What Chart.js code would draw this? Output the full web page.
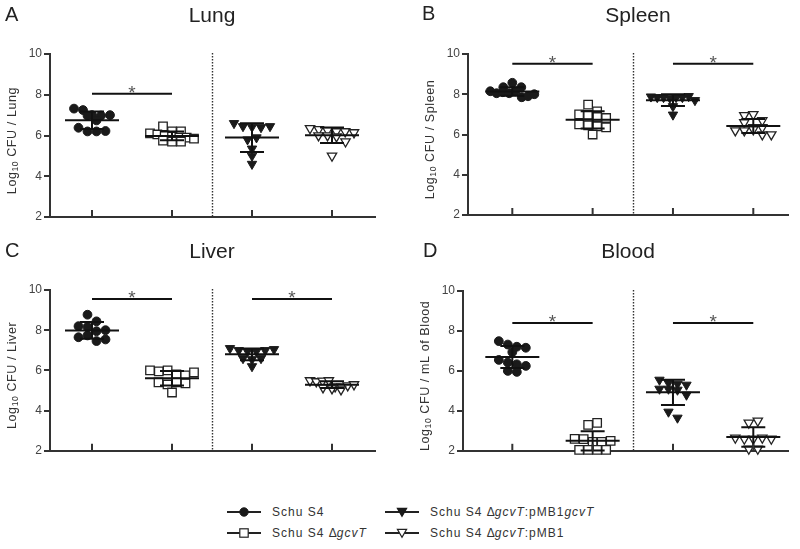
<!DOCTYPE html>
<html>
<head>
<meta charset="utf-8">
<script src="https://cdn.jsdelivr.net/npm/chart.js@4.4.1/dist/chart.umd.min.js"></script>
<style>
html,body{margin:0;padding:0;background:#fff;}
#wrap{position:relative;width:800px;height:549px;overflow:hidden;font-family:"Liberation Sans",Arial,sans-serif;background:#fff;}
.panel{position:absolute;width:400px;height:230px;}
.leg{position:absolute;height:16px;display:flex;align-items:center;white-space:nowrap;}
.leg svg{display:block;}
.leg span{font-size:12px;letter-spacing:1px;color:#333;margin-left:11px;}
</style>
</head>
<body>
<div id="wrap">
  <div class="panel" style="left:0;top:0"><canvas id="cA" width="400" height="230"></canvas></div>
  <div class="panel" style="left:400px;top:0"><canvas id="cB" width="400" height="230"></canvas></div>
  <div class="panel" style="left:0;top:230px"><canvas id="cC" width="400" height="230"></canvas></div>
  <div class="panel" style="left:400px;top:230px"><canvas id="cD" width="400" height="230"></canvas></div>
  <div id="legend"></div>
</div>
<script>
// ---------------- data ----------------
const yTicks = [2, 4, 6, 8, 10];
const groupLabels = ['Schu S4', 'Schu S4 ΔgcvT', 'Schu S4 ΔgcvT:pMB1gcvT', 'Schu S4 ΔgcvT:pMB1'];
const panelLetters = ['A', 'B', 'C', 'D'];
const panelTitles = ['Lung', 'Spleen', 'Liver', 'Blood'];
const yUnits = ['Lung', 'Spleen', 'Liver', 'mL of Blood'];

const lungWT   = [7.32, 7.25, 7.0, 6.98, 6.97, 7.0, 6.74, 6.38, 6.2, 6.2, 6.22];
const lungMut  = [6.45, 6.2, 6.2, 6.1, 6.05, 6.0, 5.95, 5.9, 5.9, 5.85, 5.75, 5.7, 5.7];
const lungComp = [6.6, 6.45, 6.42, 6.4, 6.45, 5.8, 5.9, 5.35, 5.0, 4.6];
const lungVec  = [6.35, 6.3, 6.25, 6.2, 6.2, 6.15, 6.0, 6.0, 5.95, 5.7, 5.0];

const spleenWT   = [8.35, 8.57, 8.35, 8.15, 8.05, 8.1, 8.05, 8.15, 7.85, 7.9, 8.0];
const spleenMut  = [7.48, 7.15, 7.0, 6.98, 6.87, 6.82, 6.5, 6.45, 6.4, 6.35, 6.0];
const spleenComp = [7.88, 7.85, 7.85, 7.82, 7.85, 7.85, 7.9, 7.7, 7.4, 6.98];
const spleenVec  = [6.95, 7.0, 6.7, 6.6, 6.35, 6.2, 6.2, 6.35, 6.25, 6.0, 6.0];

const liverWT   = [8.77, 8.44, 8.2, 8.16, 7.95, 7.65, 7.74, 7.46, 7.54, 8.0];
const liverMut  = [6.0, 5.95, 6.0, 5.8, 5.75, 5.9, 5.4, 5.3, 5.4, 4.9, 5.35];
const liverComp = [7.1, 7.0, 6.95, 6.95, 7.0, 7.05, 6.6, 6.55, 6.6, 6.2];
const liverVec  = [5.5, 5.45, 5.48, 5.5, 5.2, 5.2, 5.15, 5.1, 5.25, 5.05, 5.3];

const bloodWT   = [7.49, 7.32, 7.21, 7.16, 6.94, 6.55, 6.42, 6.33, 6.25, 6.0, 5.95];
const bloodMut  = [3.3, 3.4, 2.6, 2.58, 2.45, 2.45, 2.5, 2.05, 2.05, 2.05, 2.05];
const bloodComp = [5.55, 5.4, 5.35, 5.3, 5.1, 5.1, 5.05, 4.8, 3.95, 3.65];
const bloodVec  = [3.4, 3.5, 2.65, 2.6, 2.6, 2.65, 2.6, 2.1, 2.1];

// significance comparisons (group indices) and the level of the bar
const lungSig = [[1, 2]];
const spleenSig = [[1, 2], [3, 4]];
const liverSig = [[1, 2], [3, 4]];
const bloodSig = [[1, 2], [3, 4]];
const sigLevels = [8.05, 9.52, 9.55, 8.4];

// ---------------- styling ----------------
const FONT = '"Liberation Sans", Arial, sans-serif';
const INK = '#1a1a1a';
const groupStyles = [
  { pointStyle: 'circle',   rotation: 0,   radius: 4.4, fill: INK,   border: INK,   bw: 1 },
  { pointStyle: 'rect',     rotation: 0,   radius: 6.0, fill: '#fff', border: '#222', bw: 1.3 },
  { pointStyle: 'triangle', rotation: 180, radius: 5.4, fill: INK,   border: INK,   bw: 1 },
  { pointStyle: 'triangle', rotation: 180, radius: 5.4, fill: '#fff', border: '#222', bw: 1.3 }
];

const panels = [
  { id: 'cA', sets: [lungWT, lungMut, lungComp, lungVec], sig: lungSig,
    area: { l: 50, r: 375, t: 54, b: 217 }, xr: [0.475, 4.5375],
    title: { x: 212, y: 22 }, letter: { x: 5, y: 21 } },
  { id: 'cB', sets: [spleenWT, spleenMut, spleenComp, spleenVec], sig: spleenSig,
    area: { l: 68, r: 388, t: 54, b: 215 }, xr: [0.4485, 4.432],
    title: { x: 238, y: 22 }, letter: { x: 22, y: 20 } },
  { id: 'cC', sets: [liverWT, liverMut, liverComp, liverVec], sig: liverSig,
    area: { l: 50, r: 375, t: 60, b: 222 }, xr: [0.475, 4.5375],
    title: { x: 212, y: 28 }, letter: { x: 5, y: 27 } },
  { id: 'cD', sets: [bloodWT, bloodMut, bloodComp, bloodVec], sig: bloodSig,
    area: { l: 63, r: 388, t: 61, b: 222 }, xr: [0.386, 4.432],
    title: { x: 228, y: 28 }, letter: { x: 23, y: 27 } }
];

const Y_AXIS_W = 40;

function meanSd(arr) {
  const n = arr.length;
  const m = arr.reduce((a, b) => a + b, 0) / n;
  const v = arr.reduce((a, b) => a + (b - m) * (b - m), 0) / (n - 1);
  return [m, Math.sqrt(v)];
}

const decoPlugin = {
  id: 'deco',
  afterDatasetsUpdate(chart, args, o) {
    // column scatter layout: points with close values share a row,
    // rows are spread sideways and centred on the column
    const { rowH, step, halfW } = o.swarm;
    chart.data.datasets.forEach((ds, i) => {
      const meta = chart.getDatasetMeta(i);
      const idx = meta.data.map((el, k) => k).sort((a, b) => meta.data[a].y - meta.data[b].y);
      const rows = [];
      let cur = null;
      idx.forEach(k => {
        const y = meta.data[k].y;
        if (!cur || y - cur.y0 > rowH) { cur = { y0: y, items: [] }; rows.push(cur); }
        cur.items.push(k);
      });
      rows.forEach(r => {
        const items = r.items.slice().sort((a, b) => a - b);
        const n = items.length;
        const s = n > 1 ? Math.min(step, 2 * halfW / (n - 1)) : 0;
        items.forEach((k, j) => {
          meta.data[k].x += (j - (n - 1) / 2) * s;
        });
      });
    });
  },
  beforeDatasetsDraw(chart, args, o) {
    const { ctx, chartArea: a, scales: { x } } = chart;
    ctx.save();
    ctx.strokeStyle = '#333';
    ctx.lineWidth = 1.4;
    ctx.setLineDash([1.5, 1.5]);
    const dx = Math.round(x.getPixelForValue(2.5)) + 0.5;
    ctx.beginPath();
    ctx.moveTo(dx, a.top - 1);
    ctx.lineTo(dx, a.bottom);
    ctx.stroke();
    ctx.restore();
  },
  afterDatasetsDraw(chart, args, o) {
    const { ctx, scales: { x, y } } = chart;
    ctx.save();
    ctx.strokeStyle = '#111';
    ctx.lineWidth = 2;
    chart.data.datasets.forEach((ds, i) => {
      const vals = ds.data.map(d => d.y);
      const [m, sd] = meanSd(vals);
      const px = x.getPixelForValue(ds.data[0].x);
      const pm = y.getPixelForValue(m);
      const pt = y.getPixelForValue(m + sd);
      const pb = y.getPixelForValue(m - sd);
      ctx.beginPath();
      ctx.moveTo(px - 27, pm); ctx.lineTo(px + 27, pm);
      ctx.moveTo(px, pt); ctx.lineTo(px, pb);
      ctx.moveTo(px - 12, pt); ctx.lineTo(px + 12, pt);
      ctx.moveTo(px - 12, pb); ctx.lineTo(px + 12, pb);
      ctx.stroke();
    });
    // significance bars
    const sy = y.getPixelForValue(o.sigLevel);
    o.sig.forEach(([g1, g2]) => {
      const x1 = x.getPixelForValue(g1), x2 = x.getPixelForValue(g2);
      ctx.beginPath();
      ctx.moveTo(x1, sy); ctx.lineTo(x2, sy);
      ctx.stroke();
      ctx.fillStyle = '#555';
      ctx.font = '19px ' + FONT;
      ctx.textAlign = 'center';
      ctx.textBaseline = 'alphabetic';
      ctx.fillText('*', (x1 + x2) / 2, sy + 5);
    });
    ctx.restore();
  },
  afterDraw(chart, args, o) {
    const { ctx, chartArea: a, scales: { x } } = chart;
    ctx.save();
    // category ticks pointing up from the x axis
    ctx.strokeStyle = '#333';
    ctx.lineWidth = 2;
    [1, 2, 3, 4].forEach(c => {
      const px = x.getPixelForValue(c);
      ctx.beginPath();
      ctx.moveTo(px, a.bottom);
      ctx.lineTo(px, a.bottom - 7);
      ctx.stroke();
    });
    // panel letter and title
    ctx.fillStyle = '#222';
    ctx.textBaseline = 'alphabetic';
    ctx.font = '20px ' + FONT;
    ctx.textAlign = 'left';
    ctx.fillText(o.letter, o.letterPos.x, o.letterPos.y);
    ctx.font = '21px ' + FONT;
    ctx.textAlign = 'center';
    ctx.fillText(o.title, o.titlePos.x, o.titlePos.y);
    // y axis title with subscript
    const cx = a.left - 37;
    const cy = (a.top + a.bottom) / 2 + 5;
    ctx.translate(cx, cy);
    ctx.rotate(-Math.PI / 2);
    ctx.fillStyle = '#333';
    try { ctx.letterSpacing = '0.6px'; } catch (e) {}
    const big = '12.5px ' + FONT, small = '8.5px ' + FONT;
    const p1 = 'Log', p2 = '10', p3 = ' CFU / ' + o.unit;
    ctx.font = big; const w1 = ctx.measureText(p1).width, w3 = ctx.measureText(p3).width;
    ctx.font = small; const w2 = ctx.measureText(p2).width;
    let sx = -(w1 + w2 + w3) / 2;
    ctx.textAlign = 'left';
    ctx.textBaseline = 'middle';
    ctx.font = big; ctx.fillText(p1, sx, 0); sx += w1;
    ctx.font = small; ctx.fillText(p2, sx, 3); sx += w2;
    ctx.font = big; ctx.fillText(p3, sx, 0);
    ctx.restore();
  }
};

panels.forEach((p, pi) => {
  const datasets = p.sets.map((vals, gi) => {
    const s = groupStyles[gi];
    return {
      label: groupLabels[gi],
      data: vals.map(v => ({ x: gi + 1, y: v })),
      pointStyle: s.pointStyle,
      rotation: s.rotation,
      pointRadius: s.radius,
      backgroundColor: s.fill,
      borderColor: s.border,
      borderWidth: s.bw,
      clip: false
    };
  });
  new Chart(document.getElementById(p.id), {
    type: 'scatter',
    data: { datasets },
    plugins: [decoPlugin],
    options: {
      responsive: false,
      animation: false,
      events: [],
      layout: {
        autoPadding: false,
        padding: { left: p.area.l - Y_AXIS_W, right: 400 - p.area.r, top: p.area.t, bottom: 230 - p.area.b }
      },
      plugins: {
        legend: { display: false },
        tooltip: { enabled: false },
        deco: {
          swarm: { rowH: 7, step: 9, halfW: 22 },
          sig: p.sig,
          sigLevel: sigLevels[pi],
          title: panelTitles[pi],
          letter: panelLetters[pi],
          unit: yUnits[pi],
          titlePos: p.title,
          letterPos: p.letter
        }
      },
      scales: {
        x: {
          type: 'linear',
          min: p.xr[0], max: p.xr[1],
          grid: { display: false },
          ticks: { display: false },
          border: { display: true, color: '#333', width: 2 },
          afterFit: s => { s.height = 0; }
        },
        y: {
          type: 'linear',
          min: 2, max: 10,
          afterFit: s => { s.width = Y_AXIS_W; },
          afterBuildTicks: s => { s.ticks = yTicks.map(v => ({ value: v })); },
          ticks: { color: '#444', font: { family: FONT, size: 12 }, padding: 2 },
          grid: { display: true, drawOnChartArea: false, drawTicks: true, tickLength: 6, lineWidth: 2, color: '#333' },
          border: { display: true, color: '#333', width: 2 }
        }
      }
    }
  });
});

// ---------------- legend ----------------
const legendPos = [
  { x: 227, y: 504 }, { x: 227, y: 525 }, { x: 385, y: 504 }, { x: 385, y: 525 }
];
function markerSvg(gi) {
  const s = groupStyles[gi];
  let m = '';
  if (s.pointStyle === 'circle') m = `<circle cx="17" cy="8" r="4.2" fill="${s.fill}" stroke="${s.border}" stroke-width="1"/>`;
  else if (s.pointStyle === 'rect') m = `<rect x="12.8" y="3.8" width="8.4" height="8.4" fill="${s.fill}" stroke="${s.border}" stroke-width="1.2"/>`;
  else m = `<polygon points="12.4,4.4 21.6,4.4 17,12.4" fill="${s.fill}" stroke="${s.border}" stroke-width="1.2"/>`;
  return `<svg width="34" height="16"><line x1="0" y1="8" x2="34" y2="8" stroke="#222" stroke-width="2"/>${m}</svg>`;
}
const legendEl = document.getElementById('legend');
groupLabels.forEach((lab, gi) => {
  const d = document.createElement('div');
  d.className = 'leg';
  d.style.left = legendPos[gi].x + 'px';
  d.style.top = legendPos[gi].y + 'px';
  const html = lab.replace(/Δ/g, '<span style="margin:0;letter-spacing:0">Δ</span>').replace(/gcvT/g, '<i>gcvT</i>');
  d.innerHTML = markerSvg(gi) + `<span>${html}</span>`;
  legendEl.appendChild(d);
});
</script>
</body>
</html>
